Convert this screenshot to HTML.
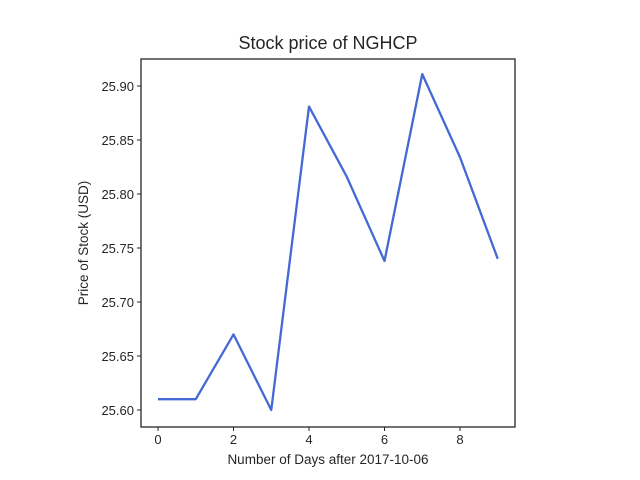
<!DOCTYPE html>
<html><head><meta charset="utf-8"><style>
body{margin:0;background:#fff;}
svg{display:block;font-family:"Liberation Sans","DejaVu Sans",sans-serif;}
</style></head><body>
<svg id="chart" width="640" height="480">
<rect width="640" height="480" fill="#fff"/>
<text x="328" y="49" text-anchor="middle" font-size="18" fill="#262626">Stock price of NGHCP</text>
<text x="328" y="464" text-anchor="middle" font-size="13.5" fill="#262626">Number of Days after 2017-10-06</text>
<text transform="translate(88,243) rotate(-90)" text-anchor="middle" font-size="13.5" fill="#262626">Price of Stock (USD)</text>
<g id="ticks"></g>
<path id="line" fill="none" stroke="#4469d4" stroke-width="2.3" stroke-linejoin="round"/>
<rect x="141" y="59" width="374" height="368" fill="none" stroke="#262626" stroke-width="1.3"/>
</svg>
<script>
const days=[0,1,2,3,4,5,6,7,8,9];
const prices=[25.61,25.61,25.67,25.60,25.881,25.816,25.738,25.911,25.834,25.74];
const xTicks=[0,2,4,6,8];
const yTicks=[25.60,25.65,25.70,25.75,25.80,25.85,25.90];
const xs=d=>158+d*37.75;
const ys=v=>410-(v-25.60)*1080;
const ns='http://www.w3.org/2000/svg';
const g=document.getElementById('ticks');
xTicks.forEach(t=>{
  const l=document.createElementNS(ns,'line');
  l.setAttribute('x1',xs(t));l.setAttribute('x2',xs(t));l.setAttribute('y1',427);l.setAttribute('y2',431);
  l.setAttribute('stroke','#262626');
  
  
  g.appendChild(l);
  const tx=document.createElementNS(ns,'text');
  tx.setAttribute('x',xs(t));tx.setAttribute('y',444);tx.setAttribute('text-anchor','middle');
  tx.setAttribute('font-size','13');tx.setAttribute('fill','#262626');
  tx.textContent=t;
  
  
  g.appendChild(tx);
});
yTicks.forEach(t=>{
  const l=document.createElementNS(ns,'line');
  l.setAttribute('x1',137);l.setAttribute('x2',141);l.setAttribute('y1',ys(t));l.setAttribute('y2',ys(t));
  l.setAttribute('stroke','#262626');
  
  
  g.appendChild(l);
  const tx=document.createElementNS(ns,'text');
  tx.setAttribute('x',134);tx.setAttribute('y',ys(t)+5);tx.setAttribute('text-anchor','end');
  tx.setAttribute('font-size','13');tx.setAttribute('fill','#262626');
  tx.textContent=t.toFixed(2);
  
  
  g.appendChild(tx);
});
document.getElementById('line').setAttribute('d',days.map((d,i)=>(i?'L':'M')+xs(d)+','+ys(prices[i])).join(' '));
</script>
</body></html>
